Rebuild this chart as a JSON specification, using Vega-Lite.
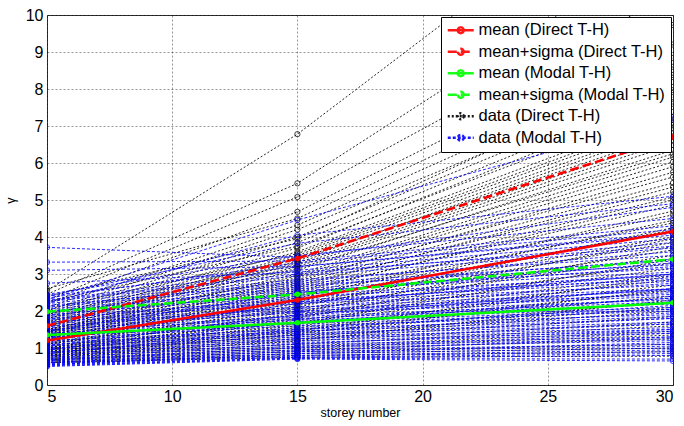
{
"$schema":"https://vega.github.io/schema/vega-lite/v6.json",
"width":626,"height":370,
"autosize":{"type":"none"},
"padding":{"left":47,"top":15,"right":11,"bottom":41},
"background":"white",
"config":{
"font":"Liberation Sans",
"view":{"stroke":"#333333","strokeWidth":1},
"axis":{"domain":false,"ticks":false,"tickSize":0,"grid":true,"gridColor":"#000000","gridOpacity":0.6,"gridDash":[2,2],"gridWidth":0.7,"labelFont":"Liberation Sans","labelFontSize":16,"labelColor":"#000000","labelOverlap":false,"labelBound":false,"titleFont":"Liberation Sans","titleFontWeight":"normal","titleColor":"#000000","titleFontSize":12.5}
},
"datasets":{
"lines":[
{"s":"e","i":1,"x":5,"y":2.55},{"s":"e","i":1,"x":15,"y":6.78},{"s":"e","i":1,"x":30,"y":14.5},
{"s":"e","i":2,"x":5,"y":2.45},{"s":"e","i":2,"x":15,"y":5.45},{"s":"e","i":2,"x":30,"y":12.0},
{"s":"e","i":3,"x":5,"y":2.3},{"s":"e","i":3,"x":15,"y":5.08},{"s":"e","i":3,"x":30,"y":10.6},
{"s":"e","i":4,"x":5,"y":2.2},{"s":"e","i":4,"x":15,"y":4.68},{"s":"e","i":4,"x":30,"y":9.73},
{"s":"e","i":5,"x":5,"y":2.1},{"s":"e","i":5,"x":15,"y":4.32},{"s":"e","i":5,"x":30,"y":8.84},
{"s":"e","i":6,"x":5,"y":2.0},{"s":"e","i":6,"x":15,"y":4.2},{"s":"e","i":6,"x":30,"y":8.38},
{"s":"e","i":7,"x":5,"y":1.95},{"s":"e","i":7,"x":15,"y":4.0},{"s":"e","i":7,"x":30,"y":8.19},
{"s":"e","i":8,"x":5,"y":1.9},{"s":"e","i":8,"x":15,"y":3.85},{"s":"e","i":8,"x":30,"y":7.97},
{"s":"e","i":9,"x":5,"y":1.85},{"s":"e","i":9,"x":15,"y":3.7},{"s":"e","i":9,"x":30,"y":7.78},
{"s":"e","i":10,"x":5,"y":1.8},{"s":"e","i":10,"x":15,"y":3.6},{"s":"e","i":10,"x":30,"y":7.38},
{"s":"e","i":11,"x":5,"y":1.75},{"s":"e","i":11,"x":15,"y":3.5},{"s":"e","i":11,"x":30,"y":7.16},
{"s":"e","i":12,"x":5,"y":1.7},{"s":"e","i":12,"x":15,"y":3.45},{"s":"e","i":12,"x":30,"y":7.03},
{"s":"e","i":13,"x":5,"y":1.65},{"s":"e","i":13,"x":15,"y":3.35},{"s":"e","i":13,"x":30,"y":6.95},
{"s":"e","i":14,"x":5,"y":1.62},{"s":"e","i":14,"x":15,"y":3.3},{"s":"e","i":14,"x":30,"y":6.7},
{"s":"e","i":15,"x":5,"y":1.6},{"s":"e","i":15,"x":15,"y":3.2},{"s":"e","i":15,"x":30,"y":6.49},
{"s":"e","i":16,"x":5,"y":1.55},{"s":"e","i":16,"x":15,"y":3.1},{"s":"e","i":16,"x":30,"y":6.35},
{"s":"e","i":17,"x":5,"y":1.5},{"s":"e","i":17,"x":15,"y":3.0},{"s":"e","i":17,"x":30,"y":6.16},
{"s":"e","i":18,"x":5,"y":1.48},{"s":"e","i":18,"x":15,"y":2.95},{"s":"e","i":18,"x":30,"y":6.03},
{"s":"e","i":19,"x":5,"y":1.45},{"s":"e","i":19,"x":15,"y":2.85},{"s":"e","i":19,"x":30,"y":5.62},
{"s":"e","i":20,"x":5,"y":1.42},{"s":"e","i":20,"x":15,"y":2.75},{"s":"e","i":20,"x":30,"y":5.46},
{"s":"e","i":21,"x":5,"y":1.4},{"s":"e","i":21,"x":15,"y":2.7},{"s":"e","i":21,"x":30,"y":5.22},
{"s":"e","i":22,"x":5,"y":1.38},{"s":"e","i":22,"x":15,"y":2.6},{"s":"e","i":22,"x":30,"y":5.08},
{"s":"e","i":23,"x":5,"y":1.35},{"s":"e","i":23,"x":15,"y":2.55},{"s":"e","i":23,"x":30,"y":4.86},
{"s":"e","i":24,"x":5,"y":1.3},{"s":"e","i":24,"x":15,"y":2.45},{"s":"e","i":24,"x":30,"y":4.6},
{"s":"e","i":25,"x":5,"y":1.28},{"s":"e","i":25,"x":15,"y":2.4},{"s":"e","i":25,"x":30,"y":4.38},
{"s":"e","i":26,"x":5,"y":1.25},{"s":"e","i":26,"x":15,"y":2.3},{"s":"e","i":26,"x":30,"y":4.19},
{"s":"e","i":27,"x":5,"y":1.22},{"s":"e","i":27,"x":15,"y":2.2},{"s":"e","i":27,"x":30,"y":4.0},
{"s":"e","i":28,"x":5,"y":1.2},{"s":"e","i":28,"x":15,"y":2.15},{"s":"e","i":28,"x":30,"y":3.85},
{"s":"e","i":29,"x":5,"y":1.15},{"s":"e","i":29,"x":15,"y":2.05},{"s":"e","i":29,"x":30,"y":3.65},
{"s":"e","i":30,"x":5,"y":1.12},{"s":"e","i":30,"x":15,"y":2.0},{"s":"e","i":30,"x":30,"y":3.5},
{"s":"e","i":31,"x":5,"y":1.1},{"s":"e","i":31,"x":15,"y":1.9},{"s":"e","i":31,"x":30,"y":3.3},
{"s":"e","i":32,"x":5,"y":1.05},{"s":"e","i":32,"x":15,"y":1.85},{"s":"e","i":32,"x":30,"y":3.15},
{"s":"e","i":33,"x":5,"y":1.02},{"s":"e","i":33,"x":15,"y":1.75},{"s":"e","i":33,"x":30,"y":3.0},
{"s":"e","i":34,"x":5,"y":1.0},{"s":"e","i":34,"x":15,"y":1.7},{"s":"e","i":34,"x":30,"y":2.85},
{"s":"e","i":35,"x":5,"y":0.98},{"s":"e","i":35,"x":15,"y":1.6},{"s":"e","i":35,"x":30,"y":2.7},
{"s":"e","i":36,"x":5,"y":0.95},{"s":"e","i":36,"x":15,"y":1.55},{"s":"e","i":36,"x":30,"y":2.55},
{"s":"e","i":37,"x":5,"y":0.92},{"s":"e","i":37,"x":15,"y":1.5},{"s":"e","i":37,"x":30,"y":2.4},
{"s":"e","i":38,"x":5,"y":0.9},{"s":"e","i":38,"x":15,"y":1.42},{"s":"e","i":38,"x":30,"y":2.25},
{"s":"e","i":39,"x":5,"y":0.88},{"s":"e","i":39,"x":15,"y":1.35},{"s":"e","i":39,"x":30,"y":2.1},
{"s":"e","i":40,"x":5,"y":0.85},{"s":"e","i":40,"x":15,"y":1.3},{"s":"e","i":40,"x":30,"y":2.0},
{"s":"e","i":41,"x":5,"y":0.82},{"s":"e","i":41,"x":15,"y":1.25},{"s":"e","i":41,"x":30,"y":1.85},
{"s":"e","i":42,"x":5,"y":0.8},{"s":"e","i":42,"x":15,"y":1.18},{"s":"e","i":42,"x":30,"y":1.7},
{"s":"e","i":43,"x":5,"y":0.78},{"s":"e","i":43,"x":15,"y":1.1},{"s":"e","i":43,"x":30,"y":1.6},
{"s":"e","i":44,"x":5,"y":0.75},{"s":"e","i":44,"x":15,"y":1.05},{"s":"e","i":44,"x":30,"y":1.45},
{"s":"e","i":45,"x":5,"y":0.72},{"s":"e","i":45,"x":15,"y":1.0},{"s":"e","i":45,"x":30,"y":1.35},
{"s":"e","i":46,"x":5,"y":0.7},{"s":"e","i":46,"x":15,"y":0.95},{"s":"e","i":46,"x":30,"y":1.25},
{"s":"e","i":47,"x":5,"y":0.68},{"s":"e","i":47,"x":15,"y":0.9},{"s":"e","i":47,"x":30,"y":1.1},
{"s":"e","i":48,"x":5,"y":0.65},{"s":"e","i":48,"x":15,"y":0.85},{"s":"e","i":48,"x":30,"y":1.0},
{"s":"e","i":49,"x":5,"y":0.62},{"s":"e","i":49,"x":15,"y":0.8},{"s":"e","i":49,"x":30,"y":0.9},
{"s":"e","i":50,"x":5,"y":0.6},{"s":"e","i":50,"x":15,"y":0.75},{"s":"e","i":50,"x":30,"y":0.78},
{"s":"e","i":107,"x":5,"y":2.6},{"s":"e","i":107,"x":15,"y":4.5},{"s":"e","i":107,"x":30,"y":9.2},
{"s":"e","i":108,"x":5,"y":2.4},{"s":"e","i":108,"x":15,"y":3.95},{"s":"e","i":108,"x":30,"y":8.6},
{"s":"e","i":109,"x":5,"y":2.25},{"s":"e","i":109,"x":15,"y":3.75},{"s":"e","i":109,"x":30,"y":7.6},
{"s":"e","i":110,"x":5,"y":2.05},{"s":"e","i":110,"x":15,"y":3.55},{"s":"e","i":110,"x":30,"y":7.25},
{"s":"e","i":111,"x":5,"y":1.9},{"s":"e","i":111,"x":15,"y":3.4},{"s":"e","i":111,"x":30,"y":6.8},
{"s":"e","i":112,"x":5,"y":1.8},{"s":"e","i":112,"x":15,"y":3.25},{"s":"e","i":112,"x":30,"y":6.6},
{"s":"e","i":113,"x":5,"y":1.7},{"s":"e","i":113,"x":15,"y":3.15},{"s":"e","i":113,"x":30,"y":6.25},
{"s":"e","i":114,"x":5,"y":1.6},{"s":"e","i":114,"x":15,"y":2.9},{"s":"e","i":114,"x":30,"y":5.9},
{"s":"e","i":115,"x":5,"y":1.5},{"s":"e","i":115,"x":15,"y":2.8},{"s":"e","i":115,"x":30,"y":5.75},
{"s":"e","i":116,"x":5,"y":1.45},{"s":"e","i":116,"x":15,"y":2.65},{"s":"e","i":116,"x":30,"y":5.35},
{"s":"e","i":117,"x":5,"y":1.35},{"s":"e","i":117,"x":15,"y":2.5},{"s":"e","i":117,"x":30,"y":5.0},
{"s":"e","i":118,"x":5,"y":1.3},{"s":"e","i":118,"x":15,"y":2.35},{"s":"e","i":118,"x":30,"y":4.7},
{"s":"e","i":119,"x":5,"y":1.2},{"s":"e","i":119,"x":15,"y":2.25},{"s":"e","i":119,"x":30,"y":4.45},
{"s":"e","i":120,"x":5,"y":1.1},{"s":"e","i":120,"x":15,"y":2.1},{"s":"e","i":120,"x":30,"y":4.25},
{"s":"e","i":121,"x":5,"y":1.0},{"s":"e","i":121,"x":15,"y":1.95},{"s":"e","i":121,"x":30,"y":3.95},
{"s":"e","i":122,"x":5,"y":0.95},{"s":"e","i":122,"x":15,"y":1.8},{"s":"e","i":122,"x":30,"y":3.75},
{"s":"e","i":123,"x":5,"y":0.9},{"s":"e","i":123,"x":15,"y":1.65},{"s":"e","i":123,"x":30,"y":3.4},
{"s":"e","i":124,"x":5,"y":0.85},{"s":"e","i":124,"x":15,"y":1.45},{"s":"e","i":124,"x":30,"y":2.95},
{"s":"e","i":125,"x":5,"y":0.8},{"s":"e","i":125,"x":15,"y":1.38},{"s":"e","i":125,"x":30,"y":2.6},
{"s":"e","i":126,"x":5,"y":0.75},{"s":"e","i":126,"x":15,"y":1.2},{"s":"e","i":126,"x":30,"y":2.3},
{"s":"f","i":51,"x":5,"y":3.72},{"s":"f","i":51,"x":15,"y":3.45},{"s":"f","i":51,"x":30,"y":4.8},
{"s":"f","i":52,"x":5,"y":3.32},{"s":"f","i":52,"x":15,"y":3.35},{"s":"f","i":52,"x":30,"y":4.3},
{"s":"f","i":53,"x":5,"y":3.1},{"s":"f","i":53,"x":15,"y":3.2},{"s":"f","i":53,"x":30,"y":4.05},
{"s":"f","i":54,"x":5,"y":2.75},{"s":"f","i":54,"x":15,"y":3.05},{"s":"f","i":54,"x":30,"y":3.75},
{"s":"f","i":55,"x":5,"y":2.3},{"s":"f","i":55,"x":15,"y":4.46},{"s":"f","i":55,"x":30,"y":7.2},
{"s":"f","i":56,"x":5,"y":2.2},{"s":"f","i":56,"x":15,"y":4.05},{"s":"f","i":56,"x":30,"y":5.1},
{"s":"f","i":57,"x":5,"y":2.4},{"s":"f","i":57,"x":15,"y":3.83},{"s":"f","i":57,"x":30,"y":4.9},
{"s":"f","i":58,"x":5,"y":2.45},{"s":"f","i":58,"x":15,"y":3.5},{"s":"f","i":58,"x":30,"y":4.5},
{"s":"f","i":59,"x":5,"y":2.35},{"s":"f","i":59,"x":15,"y":3.3},{"s":"f","i":59,"x":30,"y":4.2},
{"s":"f","i":60,"x":5,"y":2.3},{"s":"f","i":60,"x":15,"y":3.1},{"s":"f","i":60,"x":30,"y":3.95},
{"s":"f","i":61,"x":5,"y":2.25},{"s":"f","i":61,"x":15,"y":2.95},{"s":"f","i":61,"x":30,"y":3.7},
{"s":"f","i":62,"x":5,"y":2.2},{"s":"f","i":62,"x":15,"y":2.85},{"s":"f","i":62,"x":30,"y":3.5},
{"s":"f","i":63,"x":5,"y":2.15},{"s":"f","i":63,"x":15,"y":2.75},{"s":"f","i":63,"x":30,"y":3.35},
{"s":"f","i":64,"x":5,"y":2.1},{"s":"f","i":64,"x":15,"y":2.7},{"s":"f","i":64,"x":30,"y":3.25},
{"s":"f","i":65,"x":5,"y":2.05},{"s":"f","i":65,"x":15,"y":2.6},{"s":"f","i":65,"x":30,"y":3.15},
{"s":"f","i":66,"x":5,"y":2.0},{"s":"f","i":66,"x":15,"y":2.55},{"s":"f","i":66,"x":30,"y":3.05},
{"s":"f","i":67,"x":5,"y":1.95},{"s":"f","i":67,"x":15,"y":2.45},{"s":"f","i":67,"x":30,"y":2.95},
{"s":"f","i":68,"x":5,"y":1.9},{"s":"f","i":68,"x":15,"y":2.4},{"s":"f","i":68,"x":30,"y":2.85},
{"s":"f","i":69,"x":5,"y":1.85},{"s":"f","i":69,"x":15,"y":2.3},{"s":"f","i":69,"x":30,"y":2.8},
{"s":"f","i":70,"x":5,"y":1.8},{"s":"f","i":70,"x":15,"y":2.25},{"s":"f","i":70,"x":30,"y":2.7},
{"s":"f","i":71,"x":5,"y":1.75},{"s":"f","i":71,"x":15,"y":2.2},{"s":"f","i":71,"x":30,"y":2.6},
{"s":"f","i":72,"x":5,"y":1.7},{"s":"f","i":72,"x":15,"y":2.1},{"s":"f","i":72,"x":30,"y":2.55},
{"s":"f","i":73,"x":5,"y":1.65},{"s":"f","i":73,"x":15,"y":2.05},{"s":"f","i":73,"x":30,"y":2.45},
{"s":"f","i":74,"x":5,"y":1.6},{"s":"f","i":74,"x":15,"y":2.0},{"s":"f","i":74,"x":30,"y":2.4},
{"s":"f","i":75,"x":5,"y":1.55},{"s":"f","i":75,"x":15,"y":1.95},{"s":"f","i":75,"x":30,"y":2.3},
{"s":"f","i":76,"x":5,"y":1.5},{"s":"f","i":76,"x":15,"y":1.85},{"s":"f","i":76,"x":30,"y":2.25},
{"s":"f","i":77,"x":5,"y":1.45},{"s":"f","i":77,"x":15,"y":1.8},{"s":"f","i":77,"x":30,"y":2.2},
{"s":"f","i":78,"x":5,"y":1.4},{"s":"f","i":78,"x":15,"y":1.75},{"s":"f","i":78,"x":30,"y":2.1},
{"s":"f","i":79,"x":5,"y":1.35},{"s":"f","i":79,"x":15,"y":1.7},{"s":"f","i":79,"x":30,"y":2.05},
{"s":"f","i":80,"x":5,"y":1.3},{"s":"f","i":80,"x":15,"y":1.65},{"s":"f","i":80,"x":30,"y":2.0},
{"s":"f","i":81,"x":5,"y":1.25},{"s":"f","i":81,"x":15,"y":1.6},{"s":"f","i":81,"x":30,"y":1.9},
{"s":"f","i":82,"x":5,"y":1.2},{"s":"f","i":82,"x":15,"y":1.5},{"s":"f","i":82,"x":30,"y":1.85},
{"s":"f","i":83,"x":5,"y":1.15},{"s":"f","i":83,"x":15,"y":1.45},{"s":"f","i":83,"x":30,"y":1.8},
{"s":"f","i":84,"x":5,"y":1.1},{"s":"f","i":84,"x":15,"y":1.4},{"s":"f","i":84,"x":30,"y":1.7},
{"s":"f","i":85,"x":5,"y":1.05},{"s":"f","i":85,"x":15,"y":1.35},{"s":"f","i":85,"x":30,"y":1.65},
{"s":"f","i":86,"x":5,"y":1.0},{"s":"f","i":86,"x":15,"y":1.3},{"s":"f","i":86,"x":30,"y":1.55},
{"s":"f","i":87,"x":5,"y":0.95},{"s":"f","i":87,"x":15,"y":1.25},{"s":"f","i":87,"x":30,"y":1.5},
{"s":"f","i":88,"x":5,"y":0.9},{"s":"f","i":88,"x":15,"y":1.2},{"s":"f","i":88,"x":30,"y":1.45},
{"s":"f","i":89,"x":5,"y":0.85},{"s":"f","i":89,"x":15,"y":1.15},{"s":"f","i":89,"x":30,"y":1.4},
{"s":"f","i":90,"x":5,"y":0.8},{"s":"f","i":90,"x":15,"y":1.1},{"s":"f","i":90,"x":30,"y":1.3},
{"s":"f","i":91,"x":5,"y":0.75},{"s":"f","i":91,"x":15,"y":1.05},{"s":"f","i":91,"x":30,"y":1.25},
{"s":"f","i":92,"x":5,"y":0.7},{"s":"f","i":92,"x":15,"y":1.0},{"s":"f","i":92,"x":30,"y":1.2},
{"s":"f","i":93,"x":5,"y":0.68},{"s":"f","i":93,"x":15,"y":0.95},{"s":"f","i":93,"x":30,"y":1.1},
{"s":"f","i":94,"x":5,"y":0.65},{"s":"f","i":94,"x":15,"y":0.9},{"s":"f","i":94,"x":30,"y":1.05},
{"s":"f","i":95,"x":5,"y":0.62},{"s":"f","i":95,"x":15,"y":0.85},{"s":"f","i":95,"x":30,"y":1.0},
{"s":"f","i":96,"x":5,"y":0.6},{"s":"f","i":96,"x":15,"y":0.8},{"s":"f","i":96,"x":30,"y":0.95},
{"s":"f","i":97,"x":5,"y":0.58},{"s":"f","i":97,"x":15,"y":0.78},{"s":"f","i":97,"x":30,"y":0.9},
{"s":"f","i":98,"x":5,"y":0.56},{"s":"f","i":98,"x":15,"y":0.75},{"s":"f","i":98,"x":30,"y":0.85},
{"s":"f","i":99,"x":5,"y":0.54},{"s":"f","i":99,"x":15,"y":0.73},{"s":"f","i":99,"x":30,"y":0.8},
{"s":"f","i":100,"x":5,"y":0.52},{"s":"f","i":100,"x":15,"y":0.72},{"s":"f","i":100,"x":30,"y":0.7},
{"s":"f","i":101,"x":5,"y":0.5},{"s":"f","i":101,"x":15,"y":0.7},{"s":"f","i":101,"x":30,"y":0.65},
{"s":"f","i":102,"x":5,"y":1.45},{"s":"f","i":102,"x":15,"y":2.5},{"s":"f","i":102,"x":30,"y":3.3},
{"s":"f","i":103,"x":5,"y":1.25},{"s":"f","i":103,"x":15,"y":2.2},{"s":"f","i":103,"x":30,"y":3.0},
{"s":"f","i":104,"x":5,"y":1.05},{"s":"f","i":104,"x":15,"y":1.9},{"s":"f","i":104,"x":30,"y":2.6},
{"s":"f","i":105,"x":5,"y":0.95},{"s":"f","i":105,"x":15,"y":1.7},{"s":"f","i":105,"x":30,"y":2.35},
{"s":"f","i":106,"x":5,"y":0.85},{"s":"f","i":106,"x":15,"y":1.5},{"s":"f","i":106,"x":30,"y":2.15},
{"s":"f","i":131,"x":5,"y":2.4},{"s":"f","i":131,"x":15,"y":3.2},{"s":"f","i":131,"x":30,"y":4.1},
{"s":"f","i":132,"x":5,"y":2.28},{"s":"f","i":132,"x":15,"y":3.0},{"s":"f","i":132,"x":30,"y":3.85},
{"s":"f","i":133,"x":5,"y":2.12},{"s":"f","i":133,"x":15,"y":2.8},{"s":"f","i":133,"x":30,"y":3.6},
{"s":"f","i":134,"x":5,"y":1.98},{"s":"f","i":134,"x":15,"y":2.65},{"s":"f","i":134,"x":30,"y":3.4},
{"s":"f","i":135,"x":5,"y":1.88},{"s":"f","i":135,"x":15,"y":2.5},{"s":"f","i":135,"x":30,"y":3.2},
{"s":"f","i":136,"x":5,"y":1.78},{"s":"f","i":136,"x":15,"y":2.35},{"s":"f","i":136,"x":30,"y":3.0},
{"s":"f","i":137,"x":5,"y":1.68},{"s":"f","i":137,"x":15,"y":2.25},{"s":"f","i":137,"x":30,"y":2.9},
{"s":"f","i":138,"x":5,"y":1.58},{"s":"f","i":138,"x":15,"y":2.1},{"s":"f","i":138,"x":30,"y":2.75},
{"s":"f","i":139,"x":5,"y":1.48},{"s":"f","i":139,"x":15,"y":1.98},{"s":"f","i":139,"x":30,"y":2.6},
{"s":"f","i":140,"x":5,"y":1.38},{"s":"f","i":140,"x":15,"y":1.88},{"s":"f","i":140,"x":30,"y":2.5},
{"s":"f","i":141,"x":5,"y":1.28},{"s":"f","i":141,"x":15,"y":1.78},{"s":"f","i":141,"x":30,"y":2.35},
{"s":"f","i":142,"x":5,"y":1.18},{"s":"f","i":142,"x":15,"y":1.68},{"s":"f","i":142,"x":30,"y":2.2},
{"s":"f","i":143,"x":5,"y":1.08},{"s":"f","i":143,"x":15,"y":1.55},{"s":"f","i":143,"x":30,"y":2.05},
{"s":"f","i":144,"x":5,"y":0.98},{"s":"f","i":144,"x":15,"y":1.45},{"s":"f","i":144,"x":30,"y":1.95},
{"s":"f","i":145,"x":5,"y":0.88},{"s":"f","i":145,"x":15,"y":1.35},{"s":"f","i":145,"x":30,"y":1.8},
{"s":"f","i":146,"x":5,"y":0.78},{"s":"f","i":146,"x":15,"y":1.25},{"s":"f","i":146,"x":30,"y":1.65},
{"s":"f","i":147,"x":5,"y":0.72},{"s":"f","i":147,"x":15,"y":1.12},{"s":"f","i":147,"x":30,"y":1.5},
{"s":"f","i":148,"x":5,"y":0.66},{"s":"f","i":148,"x":15,"y":1.02},{"s":"f","i":148,"x":30,"y":1.4},
{"s":"f","i":149,"x":5,"y":0.6},{"s":"f","i":149,"x":15,"y":0.92},{"s":"f","i":149,"x":30,"y":1.3},
{"s":"f","i":150,"x":5,"y":0.55},{"s":"f","i":150,"x":15,"y":0.85},{"s":"f","i":150,"x":30,"y":1.15}
],
"means":[
{"s":"a","x":5,"y":1.2},{"s":"a","x":15,"y":2.3},{"s":"a","x":30,"y":4.15},
{"s":"b","x":5,"y":1.6},{"s":"b","x":15,"y":3.42},{"s":"b","x":30,"y":6.7},
{"s":"c","x":5,"y":1.35},{"s":"c","x":15,"y":1.68},{"s":"c","x":30,"y":2.22},
{"s":"d","x":5,"y":1.98},{"s":"d","x":15,"y":2.45},{"s":"d","x":30,"y":3.4}
]
},
"encoding":{
"x":{"field":"x","type":"quantitative","scale":{"domain":[5,30],"nice":false,"zero":false},"axis":{"values":[5,10,15,20,25,30],"labelOverlap":false,"title":"storey number","labelPadding":3,"titlePadding":2}},
"y":{"field":"y","type":"quantitative","scale":{"domain":[0,10],"nice":false,"zero":false},"axis":{"values":[0,1,2,3,4,5,6,7,8,9,10],"labelOverlap":false,"title":"γ","labelPadding":4,"titlePadding":8}}
},
"layer":[
{"data":{"name":"lines"},
"mark":{"type":"line","strokeWidth":0.95,"opacity":0.9,"clip":true},
"encoding":{
"detail":{"field":"i"},
"color":{"field":"s","type":"nominal","scale":{"domain":["a","b","c","d","e","f"],"range":["#ff0000","#ff0000","#00ff00","#00ff00","#000000","#0000ff"]},
"legend":{"title":null,"orient":"top-right","offset":2,"fillColor":"white","strokeColor":"#000000","padding":5,"labelFont":"Liberation Sans","labelFontSize":16.5,"labelColor":"#000000","labelLimit":0,"symbolType":"M-1,0H3M1.45,0A0.45,0.45 0 1,1 0.55,0A0.45,0.45 0 1,1 1.45,0","symbolSize":169,"labelOffset":16,"rowPadding":4.5,"symbolStrokeWidth":2.5,
"labelExpr":"datum.label==='a'?'mean (Direct T-H)':datum.label==='b'?'mean+sigma (Direct T-H)':datum.label==='c'?'mean (Modal T-H)':datum.label==='d'?'mean+sigma (Modal T-H)':datum.label==='e'?'data (Direct T-H)':'data (Modal T-H)'",
"encode":{"symbols":{"update":{"fill":{"signal":"(datum.value==='a'||datum.value==='b')?'#ff0000':(datum.value==='c'||datum.value==='d')?'#00ff00':'transparent'"},"strokeWidth":{"signal":"(datum.value==='e'||datum.value==='f')?0.8:2.5"}}}}}},
"strokeDash":{"field":"s","type":"nominal","scale":{"domain":["a","b","c","d","e","f"],"range":[[1,0],[9,4],[1,0],[9,4],[2,2],[3,2]]},
"legend":{"title":null,"orient":"top-right","offset":2,"fillColor":"white","strokeColor":"#000000","padding":5,"labelFont":"Liberation Sans","labelFontSize":16.5,"labelColor":"#000000","labelLimit":0,"symbolType":"M-1,0H3M1.45,0A0.45,0.45 0 1,1 0.55,0A0.45,0.45 0 1,1 1.45,0","symbolSize":169,"labelOffset":16,"rowPadding":4.5,"symbolStrokeWidth":2.5,
"labelExpr":"datum.label==='a'?'mean (Direct T-H)':datum.label==='b'?'mean+sigma (Direct T-H)':datum.label==='c'?'mean (Modal T-H)':datum.label==='d'?'mean+sigma (Modal T-H)':datum.label==='e'?'data (Direct T-H)':'data (Modal T-H)'",
"encode":{"symbols":{"update":{"fill":{"signal":"(datum.value==='a'||datum.value==='b')?'#ff0000':(datum.value==='c'||datum.value==='d')?'#00ff00':'transparent'"},"strokeWidth":{"signal":"(datum.value==='e'||datum.value==='f')?0.8:2.5"}}}}}}
}},
{"data":{"name":"lines"},
"mark":{"type":"point","filled":false,"size":28,"strokeWidth":0.8,"opacity":0.9,"clip":true},
"encoding":{
"stroke":{"field":"s","type":"nominal","scale":{"domain":["e","f"],"range":["#000000","#0000ff"]},"legend":null}
}},
{"data":{"name":"means"},
"mark":{"type":"line","strokeWidth":2.5,"clip":true},
"encoding":{
"color":{"field":"s","type":"nominal"},
"strokeDash":{"field":"s","type":"nominal"}
}},
{"data":{"name":"means"},
"mark":{"type":"point","filled":true,"size":30,"opacity":1,"clip":true},
"encoding":{
"fill":{"field":"s","type":"nominal","scale":{"domain":["a","b","c","d"],"range":["#ff0000","#ff0000","#00ff00","#00ff00"]},"legend":null}
}}
]
}
